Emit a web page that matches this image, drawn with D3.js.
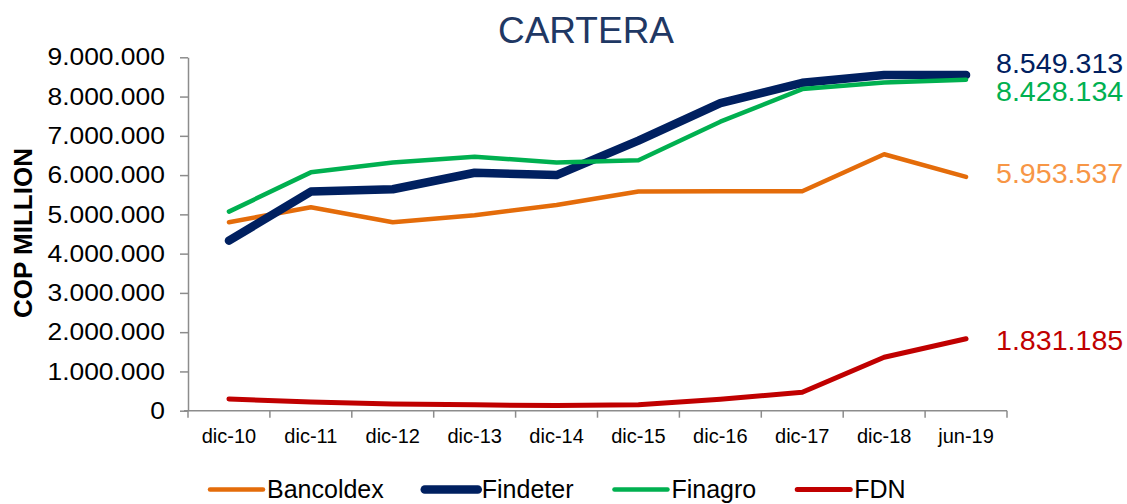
<!DOCTYPE html>
<html>
<head>
<meta charset="utf-8">
<script src="https://cdn.jsdelivr.net/npm/d3@7"></script>
<style>
  body { margin: 0; background: #fff; }
  svg { font-family: "Liberation Sans", Arial, sans-serif; }
  .axis path, .axis line { stroke: #8c8c8c; stroke-width: 1.5; }
  .line { fill: none; stroke-linecap: round; stroke-linejoin: round; }
</style>
</head>
<body>
<div id="chart"></div>
<script>
// categories + series (COP million)
var periods = ["dic-10", "dic-11", "dic-12", "dic-13", "dic-14", "dic-15", "dic-16", "dic-17", "dic-18", "jun-19"];
var bancoldex = [4800000, 5180000, 4800000, 4980000, 5240000, 5580000, 5590000, 5590000, 6530000, 5953537];
var findeter  = [4330000, 5580000, 5640000, 6060000, 6000000, 6880000, 7830000, 8350000, 8550000, 8549313];
var finagro   = [5070000, 6070000, 6320000, 6470000, 6320000, 6380000, 7360000, 8190000, 8360000, 8428134];
var fdn       = [300000, 220000, 170000, 150000, 130000, 150000, 290000, 470000, 1360000, 1831185];
var yTicks = [0, 1000000, 2000000, 3000000, 4000000, 5000000, 6000000, 7000000, 8000000, 9000000];

var series = [
    {name: "Bancoldex", values: bancoldex, color: "#E46C0A", label: "#F79646", width: 4.5, dy: 6},
    {name: "Findeter",  values: findeter,  color: "#002060", label: "#002060", width: 8.5, dy: -2},
    {name: "Finagro",   values: finagro,   color: "#00B050", label: "#00B050", width: 4.5, dy: 21},
    {name: "FDN",       values: fdn,       color: "#C00000", label: "#C00000", width: 5,   dy: 11}
];

var W = 1127, H = 504;

var svg = d3.select("#chart").append("svg")
    .attr("width", W)
    .attr("height", H);

var x = d3.scaleBand()
    .domain(periods)
    .range([188, 1007])
    .padding(0);

var y = d3.scaleLinear()
    .domain([0, 9000000])
    .range([410.7, 57.3]);

var loc = d3.formatLocale({decimal: ",", thousands: ".", grouping: [3], currency: ["", ""]});
var fmt = loc.format(",d");

// title
svg.append("text")
    .attr("x", 586)
    .attr("y", 42.7)
    .attr("text-anchor", "middle")
    .attr("fill", "#1f3864")
    .style("font-size", "37px")
    .text("CARTERA");

// y axis
var yAxis = svg.append("g")
    .attr("class", "axis y-axis")
    .attr("transform", "translate(188,0)")
    .call(d3.axisLeft(y).tickValues(yTicks).tickFormat(fmt).tickSize(8).tickSizeOuter(0));

yAxis.selectAll("text")
    .attr("x", -21)
    .attr("transform", "scale(1.1,1)")
    .attr("fill", "#000")
    .style("font-size", "24px")
    .style("font-family", "Liberation Sans, Arial, sans-serif");

// x axis: labels at band centers, ticks at band edges
var xAxis = svg.append("g")
    .attr("class", "axis x-axis")
    .attr("transform", "translate(0," + y(0) + ")")
    .call(d3.axisBottom(x).tickSize(0).tickSizeOuter(0));

xAxis.select(".domain").attr("d", "M" + (x.range()[0] - 4) + ",0H" + x.range()[1]);

xAxis.selectAll(".tick text")
    .attr("y", 0)
    .attr("dy", "32.5px")
    .attr("x", 0)
    .attr("fill", "#000")
    .style("font-size", "20px")
    .style("font-family", "Liberation Sans, Arial, sans-serif");

var edges = periods.map(function(p) { return x(p); }).concat([x.range()[1]]);
xAxis.selectAll("line.edge")
    .data(edges)
    .enter().append("line")
    .attr("class", "edge")
    .attr("x1", function(d) { return d; })
    .attr("x2", function(d) { return d; })
    .attr("y1", 0)
    .attr("y2", 7);

// axis title
svg.append("text")
    .attr("transform", "translate(32,233) rotate(-90)")
    .attr("text-anchor", "middle")
    .style("font-size", "26px")
    .style("font-weight", "bold")
    .attr("fill", "#000")
    .text("COP MILLION");

// lines
var line = d3.line()
    .x(function(d, i) { return x(periods[i]) + x.bandwidth() / 2; })
    .y(function(d) { return y(d); });

svg.selectAll("path.line")
    .data(series)
    .enter().append("path")
    .attr("class", "line")
    .attr("stroke", function(d) { return d.color; })
    .attr("stroke-width", function(d) { return d.width; })
    .attr("d", function(d) { return line(d.values); });

// end labels
svg.selectAll("text.end-label")
    .data(series)
    .enter().append("text")
    .attr("class", "end-label")
    .attr("transform", function(d) {
        var v = d.values[d.values.length - 1];
        return "translate(996," + (y(v) + d.dy) + ") scale(1.06,1)";
    })
    .attr("fill", function(d) { return d.label; })
    .style("font-size", "27px")
    .text(function(d) { return fmt(d.values[d.values.length - 1]); });

// legend
var legend = svg.append("g").attr("class", "legend");
var lx = 208, ly = 489.5;
series.forEach(function(s) {
    legend.append("line")
        .attr("x1", lx + 2).attr("x2", lx + 55)
        .attr("y1", ly).attr("y2", ly)
        .attr("stroke", s.color)
        .attr("stroke-width", s.width)
        .attr("stroke-linecap", "round");
    var t = legend.append("text")
        .attr("x", lx + 59)
        .attr("y", 498)
        .attr("fill", "#000")
        .style("font-size", "25px")
        .text(s.name);
    lx = lx + 59 + t.node().getComputedTextLength() + 39;
});
</script>
</body>
</html>
